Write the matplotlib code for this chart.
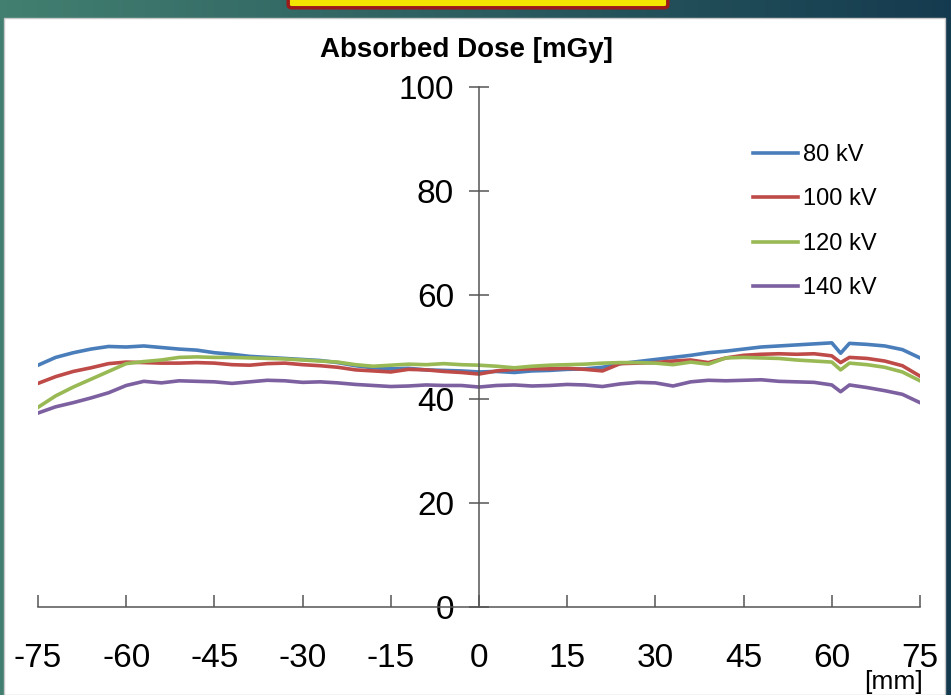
import numpy as np
import matplotlib.pyplot as plt
from matplotlib.patches import Rectangle, FancyBboxPatch

plt.rcParams['font.family'] = ['Liberation Sans', 'DejaVu Sans']
plt.rcParams['axes.unicode_minus'] = False

# position along the profile [mm]
pos = [-75, -72, -69, -66, -63, -60, -57, -54, -51, -48,
       -45, -42, -39, -36, -33, -30, -27, -24, -21, -18,
       -15, -12, -9, -6, -3, 0, 3, 6, 9, 12,
       15, 18, 21, 24, 27, 30, 33, 36, 39, 42,
       45, 48, 51, 54, 57, 60, 61.5, 63, 66, 69,
       72, 75]

# absorbed dose [mGy]
kv80 = [46.5, 48.0, 48.9, 49.6, 50.1, 50.0, 50.2, 49.9, 49.6, 49.4,
        48.9, 48.6, 48.2, 48.0, 47.8, 47.6, 47.4, 47.0, 46.4, 46.0,
        45.8, 45.9, 45.6, 45.5, 45.4, 45.2, 45.3, 45.1, 45.4, 45.5,
        45.7, 45.8, 46.1, 46.8, 47.2, 47.6, 48.0, 48.4, 48.9, 49.2,
        49.6, 50.0, 50.2, 50.4, 50.6, 50.8, 48.8, 50.7, 50.5, 50.2,
        49.5, 47.9]
kv100 = [43.0, 44.3, 45.3, 46.0, 46.8, 47.1, 47.0, 46.9, 46.9, 47.0,
         46.9, 46.6, 46.5, 46.8, 46.9, 46.6, 46.4, 46.1, 45.6, 45.4,
         45.2, 45.7, 45.6, 45.3, 45.1, 44.8, 45.4, 45.7, 45.8, 45.8,
         45.9, 45.7, 45.4, 46.8, 46.9, 47.0, 47.3, 47.5, 47.0, 47.9,
         48.4, 48.6, 48.7, 48.6, 48.7, 48.3, 47.0, 48.0, 47.8, 47.3,
         46.4, 44.4]
kv120 = [38.4, 40.6, 42.3, 43.8, 45.3, 46.8, 47.2, 47.5, 48.0, 48.1,
         48.0, 48.0, 47.9, 47.8, 47.7, 47.5, 47.3, 47.1, 46.6, 46.3,
         46.5, 46.7, 46.6, 46.8, 46.6, 46.5, 46.3, 46.0, 46.3, 46.5,
         46.6, 46.7, 46.9, 47.0, 47.0, 46.9, 46.6, 47.1, 46.7, 47.9,
         48.0, 47.9, 47.8, 47.5, 47.3, 47.1, 45.6, 46.9, 46.6, 46.1,
         45.2, 43.5]
kv140 = [37.3, 38.5, 39.3, 40.2, 41.2, 42.6, 43.4, 43.1, 43.5, 43.4,
         43.3, 43.0, 43.3, 43.6, 43.5, 43.2, 43.3, 43.1, 42.8, 42.6,
         42.4, 42.5, 42.7, 42.6, 42.6, 42.3, 42.6, 42.7, 42.5, 42.6,
         42.8, 42.7, 42.4, 42.9, 43.2, 43.1, 42.5, 43.3, 43.6, 43.5,
         43.6, 43.7, 43.4, 43.3, 43.2, 42.7, 41.4, 42.7, 42.2, 41.6,
         40.9, 39.3]

labels = ["80 kV", "100 kV", "120 kV", "140 kV"]
colors = ["#4A7EBB", "#BE4B48", "#98B954", "#7D60A0"]

W, H = 951, 695
fig = plt.figure(figsize=(W / 100, H / 100), dpi=100)

# slide background: teal gradient frame, white panel
bg = fig.add_axes([0, 0, 1, 1], zorder=-10)
bg.set_axis_off()
grad = np.linspace(0, 1, 256)[None, :, None]
c0 = np.array([0.26, 0.50, 0.44])
c1 = np.array([0.08, 0.23, 0.31])
bg.imshow(c0 + (c1 - c0) * grad, aspect='auto', extent=[0, 1, 0, 1])
bg.set_xlim(0, 1)
bg.set_ylim(0, 1)
bg.add_patch(Rectangle((4 / W, 0), 941 / W, 1 - 18 / H, facecolor='white',
                       edgecolor='#c8c8c8', lw=1))
bg.add_patch(FancyBboxPatch((292 / W, 1 - 5 / H), 372 / W, 12 / H,
                            boxstyle="round,pad=0.004", facecolor='#f2e600',
                            edgecolor='#9c1a1a', lw=2.5))

ax = fig.add_axes([38 / W, 1 - 607 / H, 882 / W, 520 / H])
ax.set_facecolor('none')

for y, lab, c in zip([kv80, kv100, kv120, kv140], labels, colors):
    ax.plot(pos, y, color=c, lw=2.6, label=lab)

ax.set_xlim(-75, 75)
ax.set_ylim(0, 100)
ax.spines['left'].set_position(('data', 0))
ax.spines['bottom'].set_position(('data', 0))
ax.spines['top'].set_visible(False)
ax.spines['right'].set_visible(False)
for s in ['left', 'bottom']:
    ax.spines[s].set_color('#555555')
    ax.spines[s].set_linewidth(1.1)

ax.set_xticks([-75, -60, -45, -30, -15, 0, 15, 30, 45, 60, 75])
ax.set_yticks([0, 20, 40, 60, 80, 100])
ax.tick_params(axis='y', direction='inout', length=14, width=1.1,
               color='#555555', pad=11, labelsize=24)
ax.tick_params(axis='x', direction='in', length=8.5, width=1.1,
               color='#555555', pad=26, labelsize=24)

fig.text(466 / W, 1 - 50 / H, "Absorbed Dose [mGy]", ha='center',
         va='center', fontsize=20, fontweight='bold')
fig.text(894 / W, 1 - 682 / H, "[mm]", ha='center', va='center', fontsize=19)

ax.legend(loc='upper left', bbox_to_anchor=(753 / W, 1 - 144 / H),
          bbox_transform=fig.transFigure, frameon=False, fontsize=17,
          handlelength=1.9, handletextpad=0.2, labelspacing=0.95,
          borderpad=0, borderaxespad=0)

fig.savefig("out.png", dpi=100)
